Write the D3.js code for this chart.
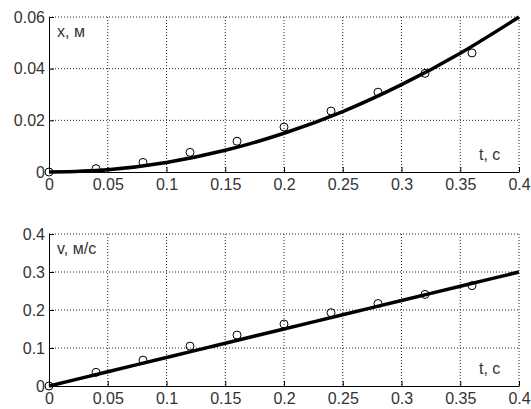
<!DOCTYPE html>
<html>
<head>
<meta charset="utf-8">
<script src="https://cdn.jsdelivr.net/npm/d3@7"></script>
<style>
  body { margin: 0; background: #fff; }
  text { font-family: "Liberation Sans", Arial, sans-serif; }
</style>
</head>
<body>
<svg id="chart"></svg>
<script>
// measured points (circles)
const tPoints = [0, 0.04, 0.08, 0.12, 0.16, 0.2, 0.24, 0.28, 0.32, 0.36];
const xPoints = [0, 0.0013, 0.0037, 0.0076, 0.0119, 0.0174, 0.0236, 0.0309, 0.0382, 0.0461];
const vPoints = [0, 0.036, 0.068, 0.105, 0.134, 0.163, 0.193, 0.217, 0.241, 0.264];

// fitted curves
const tCurve = [0, 0.05, 0.1, 0.15, 0.2, 0.25, 0.3, 0.35, 0.4];
const xCurve = [0, 0.0009, 0.0037, 0.0084, 0.015, 0.0234, 0.0338, 0.046, 0.06];
const vCurve = [0, 0.0375, 0.075, 0.1125, 0.15, 0.1875, 0.225, 0.2625, 0.3];

const tTicks = [0, 0.05, 0.1, 0.15, 0.2, 0.25, 0.3, 0.35, 0.4];
const xTicks = [0, 0.02, 0.04, 0.06];
const vTicks = [0, 0.1, 0.2, 0.3, 0.4];

const w = 531;
const h = 409;

const svg = d3.select('#chart')
  .attr('width', w)
  .attr('height', h);

const fmt = d => String(+d.toFixed(2));

function panel(top, bottom, yDomain, yTicks, tVals, yVals, tC, yC, yLabel) {
  const xScale = d3.scaleLinear().domain([0, 0.4]).range([49, 519]);
  const yScale = d3.scaleLinear().domain(yDomain).range([bottom, top]);

  const g = svg.append('g');

  // dotted grid
  g.selectAll('.vgrid')
    .data(tTicks.filter(d => d > 0))
    .enter()
    .append('line')
    .attr('x1', d => xScale(d))
    .attr('x2', d => xScale(d))
    .attr('y1', top)
    .attr('y2', bottom)
    .attr('stroke', '#222')
    .attr('stroke-width', 1)
    .attr('stroke-dasharray', '1,2');

  g.selectAll('.hgrid')
    .data(yTicks.filter(d => d > 0))
    .enter()
    .append('line')
    .attr('x1', xScale(0))
    .attr('x2', xScale(0.4))
    .attr('y1', d => yScale(d))
    .attr('y2', d => yScale(d))
    .attr('stroke', '#222')
    .attr('stroke-width', 1)
    .attr('stroke-dasharray', '1,2');

  const xAxis = d3.axisBottom(xScale)
    .tickValues(tTicks)
    .tickFormat(fmt)
    .tickSizeInner(-5)
    .tickSizeOuter(0)
    .tickPadding(7);

  const yAxis = d3.axisLeft(yScale)
    .tickValues(yTicks)
    .tickFormat(fmt)
    .tickSizeInner(-5)
    .tickSizeOuter(0)
    .tickPadding(4);

  const gx = g.append('g')
    .attr('transform', `translate(0, ${bottom})`)
    .call(xAxis);

  const gy = g.append('g')
    .attr('transform', `translate(49, 0)`)
    .call(yAxis);

  [gx, gy].forEach(a => {
    a.selectAll('text')
      .attr('font-size', 16)
      .attr('fill', '#333')
      .style('font-family', '"Liberation Sans", Arial, sans-serif');
    a.selectAll('path, line').attr('stroke', '#000');
  });

  // measured circles
  g.selectAll('circle')
    .data(tVals)
    .enter()
    .append('circle')
    .attr('cx', d => xScale(d))
    .attr('cy', (d, i) => yScale(yVals[i]))
    .attr('r', 4)
    .attr('fill', 'none')
    .attr('stroke', '#000')
    .attr('stroke-width', 1);

  // fitted curve
  const line = d3.line()
    .x(d => xScale(d[0]))
    .y(d => yScale(d[1]))
    .curve(d3.curveMonotoneX);

  g.append('path')
    .datum(tC.map((t, i) => [t, yC[i]]))
    .attr('d', line)
    .attr('fill', 'none')
    .attr('stroke', '#000')
    .attr('stroke-width', 3.5);

  g.append('text')
    .attr('x', 57)
    .attr('y', top + 20)
    .attr('font-size', 16)
    .attr('fill', '#333')
    .text(yLabel);

  g.append('text')
    .attr('x', 479)
    .attr('y', bottom - 12)
    .attr('font-size', 16)
    .attr('fill', '#333')
    .text('t, c');
}

panel(17, 172, [0, 0.06], xTicks, tPoints, xPoints, tCurve, xCurve, 'x, м');
panel(234, 386, [0, 0.4], vTicks, tPoints, vPoints, tCurve, vCurve, 'v, м/с');
</script>
</body>
</html>
